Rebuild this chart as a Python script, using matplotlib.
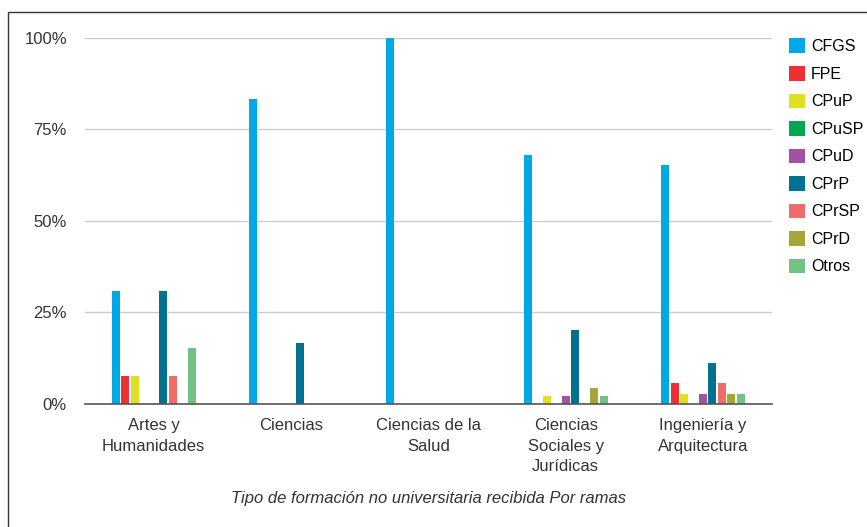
import matplotlib
matplotlib.use("Agg")
import matplotlib.pyplot as plt
import numpy as np
from matplotlib.patches import Rectangle, Patch
from matplotlib.ticker import PercentFormatter

plt.rcParams['font.family'] = ['Liberation Sans', 'DejaVu Sans']

# Data (percent per branch)
ramas = ["Artes y\nHumanidades", "Ciencias", "Ciencias de la\nSalud",
         "Ciencias\nSociales y\nJurídicas", "Ingeniería y\nArquitectura"]
series = ["CFGS", "FPE", "CPuP", "CPuSP", "CPuD", "CPrP", "CPrSP", "CPrD", "Otros"]
colores = ["#00a9e6", "#ee3034", "#dfe01f", "#00a651", "#a352a3",
           "#00728f", "#f26b6b", "#a5a539", "#70c382"]

cfgs = [30.77, 83.33, 100.0, 68.1, 65.3]
fpe = [7.69, 0, 0, 0, 5.6]
cpup = [7.69, 0, 0, 2.13, 2.7]
cpusp = [0, 0, 0, 0, 0]
cpud = [0, 0, 0, 2.13, 2.7]
cprp = [30.77, 16.67, 0, 20.2, 11.1]
cprsp = [7.69, 0, 0, 0, 5.6]
cprd = [0, 0, 0, 4.26, 2.7]
otros = [15.38, 0, 0, 2.13, 2.7]

valores = [cfgs, fpe, cpup, cpusp, cpud, cprp, cprsp, cprd, otros]

fig = plt.figure(figsize=(8.67, 5.27), dpi=100)
ax = fig.add_axes([0.098, 0.2334, 0.792, 0.6946])

x = np.arange(len(ramas))
step = 0.069
width = 0.058
for i, (nombre, vals, col) in enumerate(zip(series, valores, colores)):
    offs = (i - 4) * step
    ax.bar(x + offs, vals, width=width, color=col, label=nombre, zorder=3)

ax.set_xlim(-0.5, len(ramas) - 0.5)
ax.set_ylim(0, 100)
ax.set_yticks([0, 25, 50, 75, 100])
ax.yaxis.set_major_formatter(PercentFormatter(decimals=0))
ax.grid(axis='y', color='#cccccc', linewidth=1, zorder=0)
for s in ['top', 'right', 'left']:
    ax.spines[s].set_visible(False)
ax.spines['bottom'].set_color('#555555')
ax.spines['bottom'].set_linewidth(1.2)
ax.spines['bottom'].set_zorder(4)
ax.tick_params(axis='y', length=0, pad=13, labelsize=12, labelcolor='#333333')
ax.tick_params(axis='x', length=0, pad=10, labelsize=12, labelcolor='#333333')
ax.set_xticks(x)
ax.set_xticklabels(ramas, linespacing=1.48)

ax.set_xlabel("Tipo de formación no universitaria recibida Por ramas",
              fontstyle='italic', fontsize=12, color='#333333', labelpad=12)

handles = [Patch(facecolor=c, label=n) for n, c in zip(series, colores)]
fig.legend(handles=handles, loc='upper left', bbox_to_anchor=(0.9095, 0.927),
           frameon=False, fontsize=11.5, handlelength=1.05, handleheight=1.05,
           handletextpad=0.35, labelspacing=0.73, borderaxespad=0,
           borderpad=0)

fig.patches.append(Rectangle((8 / 867, -0.01), 1.0, 1 - 12 / 527 + 0.01,
                             transform=fig.transFigure, fill=False,
                             edgecolor='#333333', linewidth=1))

fig.savefig("out.png", dpi=100)
